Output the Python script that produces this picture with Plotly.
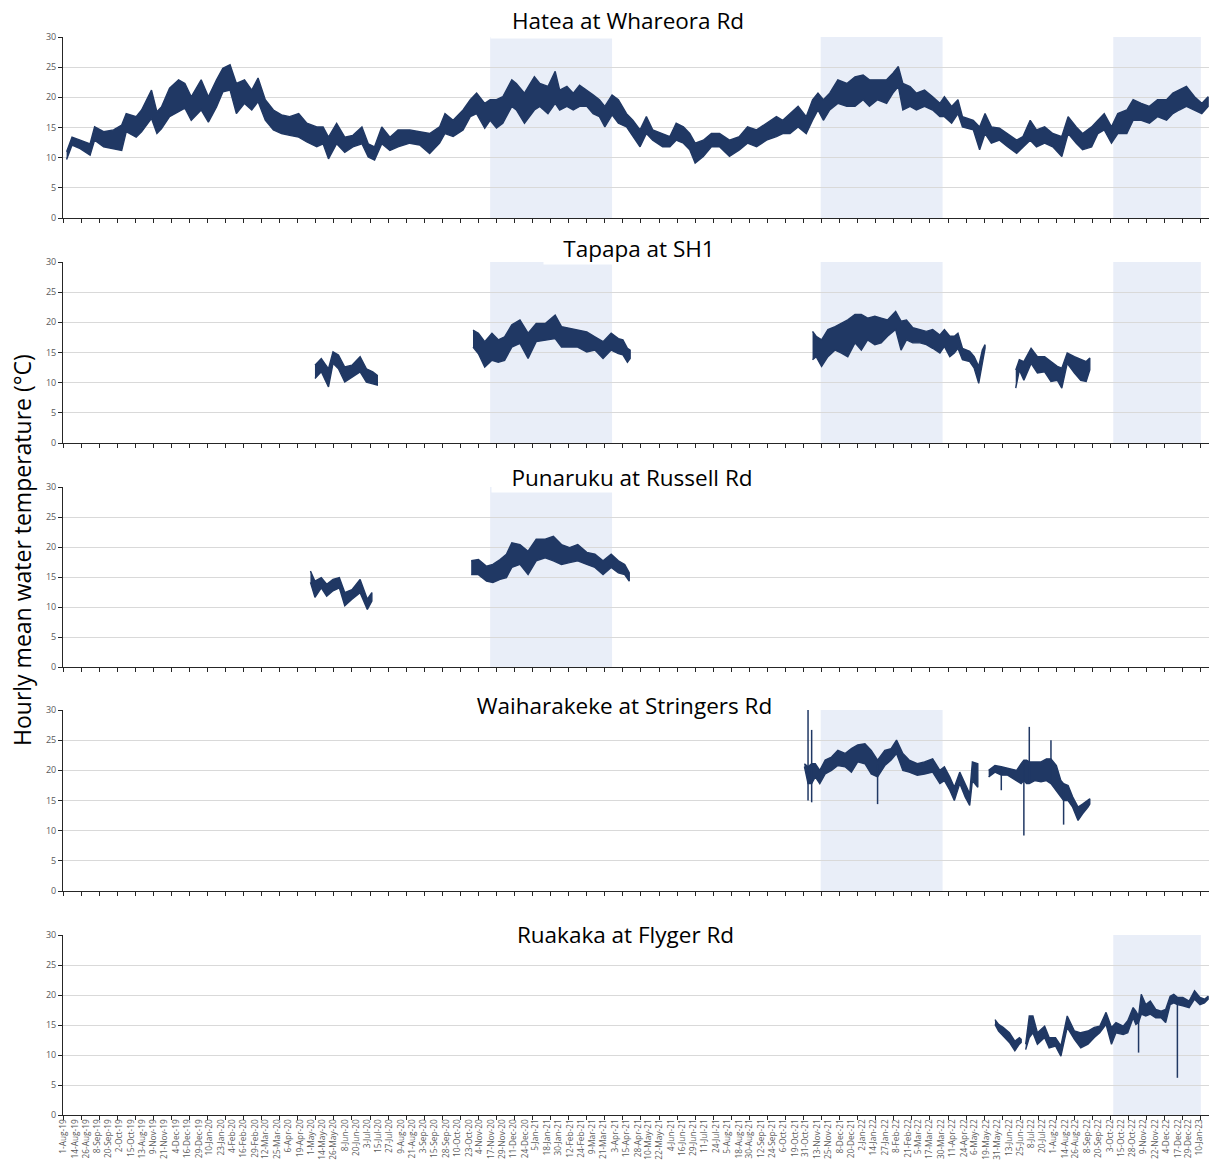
import plotly.graph_objects as go
import pandas as pd

# ---------------- data ----------------
# x values are days since 1 Aug 2019; lo/hi = lower/upper edge of the hourly band (deg C)
# None separates logger records with gaps between them.
ORIGIN = pd.Timestamp("2019-08-01")
X_END = pd.Timestamp("2023-01-21")

site_names = ["Hatea at Whareora Rd", "Tapapa at SH1", "Punaruku at Russell Rd",
              "Waiharakeke at Stringers Rd", "Ruakaka at Flyger Rd"]

hatea_day = [4, 10, 19, 30, 35, 45, 56, 65, 70, 81,
             87, 98, 104, 109, 118, 128, 135, 142, 153, 161,
             170, 177, 185, 192, 201, 209, 216, 224, 233, 242,
             251, 261, 270, 281, 288, 294, 303, 312, 321, 331,
             338, 345, 353, 362, 371, 384, 395, 406, 417, 423,
             432, 443, 451, 458, 467, 473, 480, 487, 497, 502,
             511, 522, 528, 537, 545, 550, 558, 565, 572, 580,
             587, 594, 600, 608, 615, 624, 631, 639, 646, 653,
             664, 672, 679, 687, 694, 700, 709, 718, 727, 738,
             749, 758, 768, 779, 790, 797, 805, 814, 823, 830,
             836, 842, 849, 858, 868, 877, 886, 893, 902, 912,
             919, 925, 930, 938, 945, 954, 963, 971, 976, 984,
             991, 996, 1008, 1015, 1021, 1028, 1037, 1046, 1056, 1063,
             1071, 1078, 1087, 1096, 1106, 1113, 1122, 1129, 1139, 1146,
             1153, 1161, 1168, 1178, 1185, 1194, 1203, 1212, 1222, 1229,
             1236, 1244, 1253, 1261, 1268]
hatea_hi = [11.0, 13.4, 12.9, 12.3, 15.1, 14.3, 14.6, 15.4, 17.3, 16.8,
            17.9, 21.2, 17.6, 18.4, 21.5, 22.9, 22.3, 20.1, 22.9, 20.1,
            22.9, 24.8, 25.4, 22.3, 22.9, 21.2, 23.2, 19.6, 17.9, 17.1,
            16.8, 17.3, 15.7, 15.1, 15.1, 13.4, 15.7, 13.4, 13.7, 15.1,
            12.3, 11.8, 15.1, 13.4, 14.6, 14.6, 14.3, 14.0, 15.1, 17.3,
            16.2, 17.9, 19.6, 20.7, 19.0, 19.6, 19.6, 20.1, 22.9, 22.3,
            20.7, 23.4, 22.3, 21.8, 24.3, 21.2, 21.8, 20.7, 22.0, 21.2,
            20.4, 19.6, 18.5, 20.4, 19.6, 17.3, 16.2, 14.6, 16.8, 14.6,
            14.0, 13.5, 15.7, 15.1, 14.0, 12.4, 12.9, 14.0, 14.0, 12.9,
            13.5, 15.1, 14.6, 15.7, 16.8, 16.2, 17.3, 18.5, 16.8, 19.6,
            20.7, 19.6, 20.7, 22.9, 22.3, 23.4, 23.7, 22.9, 22.9, 22.9,
            24.0, 25.1, 22.3, 21.8, 20.7, 21.2, 20.1, 19.0, 20.1, 18.5,
            19.6, 16.8, 16.2, 15.1, 17.3, 15.1, 14.9, 14.0, 12.9, 13.5,
            16.2, 14.6, 15.1, 14.0, 13.5, 16.8, 15.1, 14.0, 15.1, 16.2,
            17.3, 15.1, 17.3, 17.9, 19.6, 19.0, 18.5, 19.6, 19.6, 20.7,
            21.2, 21.8, 20.1, 19.0, 20.1]
hatea_lo = [9.7, 12.1, 11.5, 10.4, 12.9, 11.8, 11.5, 11.2, 14.3, 13.4,
            14.3, 16.5, 14.0, 14.8, 16.8, 17.6, 18.2, 16.2, 17.9, 15.9,
            18.4, 20.9, 21.2, 17.3, 19.0, 17.9, 19.3, 16.2, 14.6, 14.0,
            13.7, 13.4, 12.6, 11.8, 12.3, 9.8, 12.3, 10.9, 11.8, 12.3,
            10.1, 9.6, 12.3, 11.2, 11.8, 12.4, 12.1, 10.7, 12.4, 14.0,
            13.5, 14.6, 16.8, 17.3, 14.9, 16.2, 14.9, 15.7, 18.5, 17.9,
            15.7, 17.9, 18.5, 17.3, 19.0, 17.9, 18.5, 17.9, 18.5, 18.5,
            17.3, 16.8, 15.1, 17.1, 15.7, 15.1, 13.5, 11.8, 14.0, 12.9,
            11.8, 11.8, 12.9, 12.4, 11.3, 9.1, 10.2, 11.8, 11.8, 10.2,
            11.3, 12.4, 11.8, 12.9, 13.5, 14.0, 14.0, 15.1, 14.0, 16.2,
            17.9, 16.2, 17.9, 19.0, 18.5, 18.5, 19.6, 18.5, 19.6, 19.0,
            20.7, 21.8, 17.9, 18.5, 17.9, 18.5, 17.9, 16.8, 16.8, 15.7,
            17.3, 15.1, 14.6, 11.3, 14.0, 12.4, 12.9, 11.8, 10.7, 11.8,
            12.9, 11.8, 12.4, 11.8, 10.2, 14.0, 12.4, 11.3, 11.8, 14.0,
            14.6, 12.4, 14.0, 14.0, 16.2, 16.2, 15.7, 16.8, 16.2, 17.3,
            17.9, 18.5, 17.9, 17.3, 18.5]

tapapa_day = [279, 286, 294, 299, 305, 312, 320, 329, 336, 343, 348, None,
              454, 460, 467, 475, 482, 489, 497, 506, 515, 524,
              534, 545, 552, 561, 570, 580, 589, 598, 607, 615, 620, 625, 628, None,
              830, 834, 840, 847, 855, 862, 869, 877, 884, 891,
              899, 906, 913, 922, 928, 934, 941, 949, 956, 963,
              971, 976, 982, 987, 991, 996, 1004, 1009, 1014, 1018, 1021, None,
              1055, 1059, 1064, 1072, 1079, 1087, 1094, 1101, 1106, 1112, 1120, 1127, 1133, 1137]
tapapa_hi = [12.9, 14.0, 12.3, 15.1, 14.6, 12.6, 12.9, 14.3, 12.3, 11.8, 11.2, None,
             18.7, 18.2, 16.8, 18.2, 17.1, 17.6, 19.6, 20.4, 18.2, 19.8,
             19.8, 21.2, 19.3, 19.0, 18.7, 18.4, 17.6, 16.8, 18.2, 17.3, 17.1, 15.7, 15.4, None,
             18.5, 17.7, 17.1, 18.8, 19.3, 19.9, 20.4, 21.3, 21.3, 20.7,
             21.0, 20.7, 20.4, 21.8, 20.2, 20.4, 19.1, 18.8, 18.5, 18.8,
             17.9, 18.8, 17.7, 17.7, 18.2, 15.7, 15.2, 14.3, 12.7, 15.4, 16.3, None,
             12.1, 13.8, 13.5, 15.7, 14.3, 14.3, 13.5, 12.7, 12.4, 14.9, 14.3, 13.8, 13.5, 14.1]
tapapa_lo = [10.7, 11.8, 9.3, 13.2, 12.3, 10.1, 10.9, 11.8, 10.1, 9.8, 9.6, None,
             15.9, 14.8, 12.6, 13.7, 13.4, 13.7, 15.9, 16.5, 14.0, 16.8,
             17.1, 17.3, 15.9, 15.9, 15.9, 15.1, 15.4, 14.0, 15.4, 14.8, 14.6, 13.4, 14.0, None,
             13.8, 14.3, 12.7, 14.3, 15.4, 14.9, 14.3, 16.6, 15.4, 17.1,
             16.3, 16.6, 17.7, 18.8, 15.4, 17.1, 16.6, 16.6, 16.3, 15.7,
             14.9, 16.0, 14.3, 14.9, 15.7, 13.8, 13.5, 12.4, 9.9, 13.2, 15.7, None,
             9.1, 12.1, 10.4, 13.2, 11.6, 11.8, 10.2, 10.4, 9.1, 13.2, 11.6, 10.4, 10.2, 12.1]

punaruku_day = [274, 279, 286, 292, 299, 306, 312, 320, 329, 334, 337, 342, None,
                452, 460, 469, 476, 484, 491, 497, 506, 515, 524,
                534, 543, 552, 561, 570, 580, 589, 598, 607, 615, 622, 627]
punaruku_hi = [16.0, 14.3, 14.9, 13.8, 14.6, 14.9, 12.4, 12.9, 14.6, 12.4, 11.3, 12.4, None,
               17.7, 17.9, 16.8, 17.1, 17.9, 18.8, 20.7, 20.4, 19.3, 21.3,
               21.3, 21.8, 20.4, 19.9, 20.4, 19.1, 18.8, 17.7, 18.8, 17.7, 17.1, 15.7]
punaruku_lo = [14.1, 11.6, 13.2, 11.8, 12.7, 13.2, 10.2, 11.3, 12.4, 10.7, 9.6, 11.0, None,
               15.4, 15.4, 14.3, 14.1, 14.6, 14.9, 16.6, 17.1, 15.4, 17.7,
               18.2, 17.7, 17.1, 17.4, 17.7, 17.1, 16.6, 15.4, 16.6, 15.7, 15.4, 14.3]

waiharakeke_day = [821, 825, 829, 833, 838, 844, 851, 858, 866, 873,
                   880, 888, 895, 902, 910, 917, 923, 930, 937, 946,
                   954, 963, 971, 976, 982, 987, 993, 999, 1004, 1007, 1013, None,
                   1025, 1032, 1039, 1046, 1056, 1061, 1064, 1067, 1070, 1076,
                   1083, 1089, 1094, 1100, 1105, 1108, 1113, 1118, 1124, 1129, 1135, 1137]
waiharakeke_hi = [21.1, 20.6, 21.1, 21.1, 20.0, 21.7, 22.2, 23.3, 22.8, 23.6,
                  24.2, 24.4, 23.3, 21.7, 23.3, 23.6, 25.0, 22.8, 21.7, 21.1,
                  21.4, 21.9, 20.0, 20.6, 18.9, 17.2, 19.7, 17.8, 16.1, 21.4, 21.1, None,
                  20.0, 20.8, 20.6, 20.3, 20.0, 21.1, 21.7, 21.7, 21.4, 21.4,
                  21.4, 21.9, 21.9, 20.8, 18.3, 17.8, 17.5, 15.6, 13.9, 14.4, 15.0, 15.3]
waiharakeke_lo = [20.6, 17.8, 17.8, 18.9, 17.8, 19.4, 20.0, 20.8, 20.6, 19.7,
                  21.4, 21.1, 19.4, 18.9, 20.8, 21.7, 22.8, 20.0, 19.7, 19.2,
                  19.4, 19.7, 17.8, 18.3, 16.7, 15.0, 17.8, 15.6, 14.2, 18.3, 17.2, None,
                  18.9, 19.7, 19.2, 19.2, 18.3, 17.8, 18.3, 17.8, 17.8, 18.3,
                  18.1, 18.3, 17.8, 16.7, 15.6, 15.0, 15.0, 13.9, 11.7, 12.8, 13.9, 14.4]
# short-lived spikes (single readings)
waiharakeke_spike_day = [825, 829, 902, 1039, 1064, 1070, 1094, 1108]
waiharakeke_spike_lo = [15.0, 14.7, 14.4, 16.7, 9.2, 17.8, 17.8, 11.0]
waiharakeke_spike_hi = [30.0, 26.7, 21.0, 20.0, 21.7, 27.2, 25.0, 17.8]

ruakaka_day = [1032, 1036, 1041, 1048, 1054, 1059, 1061, None,
               1066, 1070, 1074, 1079, 1087, 1092, 1099, 1105, 1112, 1120,
               1127, 1135, 1142, 1148, 1155, 1161, 1166, 1174, 1179, 1185,
               1188, 1191, 1194, 1199, 1204, 1210, 1216, 1221, 1226, 1230,
               1234, 1240, 1247, 1253, 1259, 1264, 1268]
ruakaka_hi = [15.9, 15.1, 14.6, 13.7, 12.3, 12.9, 12.6, None,
              11.8, 16.5, 16.5, 13.7, 14.8, 12.9, 12.9, 11.5, 16.5, 14.0,
              13.7, 14.0, 14.6, 14.8, 17.1, 14.6, 15.4, 14.8, 15.7, 17.9,
              17.3, 16.5, 20.1, 18.4, 19.0, 17.6, 17.3, 17.6, 19.8, 20.1,
              19.6, 19.6, 19.0, 20.7, 19.6, 19.3, 19.8]
ruakaka_lo = [15.1, 14.0, 13.2, 12.1, 10.7, 11.8, 12.1, None,
              10.9, 12.9, 13.7, 11.8, 12.9, 11.2, 11.5, 9.8, 14.6, 12.6,
              11.2, 11.8, 12.9, 13.7, 15.1, 11.8, 13.7, 13.4, 13.7, 16.2,
              15.1, 15.4, 16.8, 16.5, 16.8, 16.2, 16.2, 15.4, 18.4, 18.7,
              18.4, 18.2, 17.9, 19.3, 18.4, 18.7, 19.3]
ruakaka_spike_day = [1191, 1234]
ruakaka_spike_lo = [10.4, 6.2]
ruakaka_spike_hi = [16.5, 19.6]

# summer shading periods and the panels (0-based) that show them
shade_start = ["2020-11-16", "2021-11-17", "2022-10-07"]
shade_end = ["2021-03-31", "2022-04-01", "2023-01-12"]
shade_panels = [[0, 1, 2], [0, 1, 3], [0, 1, 4]]

tick_labels = ["1-Aug-19", "14-Aug-19", "26-Aug-19", "8-Sep-19", "20-Sep-19", "2-Oct-19", "15-Oct-19",
               "13-Aug-19", "9-Nov-19", "21-Nov-19", "4-Dec-19", "16-Dec-19", "29-Dec-19",
               "10-Jan-20", "23-Jan-20", "4-Feb-20", "16-Feb-20", "29-Feb-20", "12-Mar-20", "25-Mar-20",
               "6-Apr-20", "19-Apr-20", "1-May-20", "14-May-20", "26-May-20", "8-Jun-20", "20-Jun-20",
               "3-Jul-20", "15-Jul-20", "27-Jul-20", "9-Aug-20", "21-Aug-20", "3-Sep-20", "15-Sep-20",
               "28-Sep-20", "10-Oct-20", "23-Oct-20", "4-Nov-20", "17-Nov-20", "29-Nov-20", "11-Dec-20",
               "24-Dec-20", "5-Jan-21", "18-Jan-21", "30-Jan-21", "12-Feb-21", "24-Feb-21", "9-Mar-21",
               "21-Mar-21", "3-Apr-21", "15-Apr-21", "28-Apr-21", "10-May-21", "22-May-21", "4-Jun-21",
               "16-Jun-21", "29-Jun-21", "11-Jul-21", "24-Jul-21", "5-Aug-21", "18-Aug-21", "30-Aug-21",
               "12-Sep-21", "24-Sep-21", "6-Oct-21", "19-Oct-21", "31-Oct-21", "13-Nov-21", "25-Nov-21",
               "8-Dec-21", "20-Dec-21", "2-Jan-22", "14-Jan-22", "27-Jan-22", "8-Feb-22", "21-Feb-22",
               "5-Mar-22", "17-Mar-22", "30-Mar-22", "11-Apr-22", "24-Apr-22", "6-May-22", "19-May-22",
               "31-May-22", "13-Jun-22", "25-Jun-22", "8-Jul-22", "20-Jul-22", "1-Aug-22", "14-Aug-22",
               "26-Aug-22", "8-Sep-22", "20-Sep-22", "3-Oct-22", "15-Oct-22", "28-Oct-22", "9-Nov-22",
               "22-Nov-22", "4-Dec-22", "17-Dec-22", "29-Dec-22", "10-Jan-23"]
y_ticks = [0, 5, 10, 15, 20, 25, 30]

# ---------------- styling ----------------
NAVY = "#203864"
SHADE = "#E9EEF8"
GRID = "#D9D9D9"
TICKC = "#595959"
FONT = "Open Sans"

W, H = 1210, 1160
ML, MR, MT, MB = 63, 1, 37, 45
PH = H - MT - MB
PW = W - ML - MR
panel_px = [(37, 218), (262, 443), (487, 667), (710, 891), (935, 1115)]
title_px = [(628, 20, 274, 36), (639, 248, 190, 32), (632, 477, 280, 30),
            (624, 705, 337, 30), (625, 934, 257, 30)]


def fy(py):
    return (H - MB - py) / PH


def fx(px):
    return (px - ML) / PW


def to_date(d):
    return ORIGIN + pd.Timedelta(days=d)


def segments(day, lo, hi):
    segs, cur = [], ([], [], [])
    for d, l, h in zip(day, lo, hi):
        if d is None:
            if cur[0]:
                segs.append(cur)
            cur = ([], [], [])
        else:
            cur[0].append(d)
            cur[1].append(l)
            cur[2].append(h)
    if cur[0]:
        segs.append(cur)
    return segs


series = [
    (hatea_day, hatea_lo, hatea_hi, [], [], []),
    (tapapa_day, tapapa_lo, tapapa_hi, [], [], []),
    (punaruku_day, punaruku_lo, punaruku_hi, [], [], []),
    (waiharakeke_day, waiharakeke_lo, waiharakeke_hi,
     waiharakeke_spike_day, waiharakeke_spike_lo, waiharakeke_spike_hi),
    (ruakaka_day, ruakaka_lo, ruakaka_hi, ruakaka_spike_day, ruakaka_spike_lo, ruakaka_spike_hi),
]

fig = go.Figure()
for i, (day, lo, hi, sd, sl, sh) in enumerate(series):
    xa = "x" if i == 0 else f"x{i + 1}"
    ya = "y" if i == 0 else f"y{i + 1}"
    for d, l, h in segments(day, lo, hi):
        dates = [to_date(v) for v in d]
        fig.add_trace(go.Scatter(
            x=dates + dates[::-1], y=h + l[::-1], mode="lines", fill="toself",
            fillcolor=NAVY, line=dict(color=NAVY, width=1.4), xaxis=xa, yaxis=ya,
            hoverinfo="skip", showlegend=False))
    if sd:
        xs, ys = [], []
        for d, l, h in zip(sd, sl, sh):
            xs += [to_date(d), to_date(d), None]
            ys += [l, h, None]
        fig.add_trace(go.Scatter(x=xs, y=ys, mode="lines", line=dict(color=NAVY, width=1.5),
                                 xaxis=xa, yaxis=ya, hoverinfo="skip", showlegend=False))

# tick positions
label_pos = []
for t in tick_labels:
    label_pos.append(pd.to_datetime(t, format="%d-%b-%y"))
for k in range(1, len(label_pos) - 1):
    if label_pos[k] < label_pos[k - 1]:
        label_pos[k] = label_pos[k - 1] + (label_pos[k + 1] - label_pos[k - 1]) / 2
label_pos = [p + pd.Timedelta(hours=12) for p in label_pos]
minor_pos = []
t = ORIGIN
while t <= X_END:
    minor_pos.append(t)
    t = t + pd.Timedelta(days=20)

layout = dict(width=W, height=H, margin=dict(l=ML, r=MR, t=MT, b=MB, pad=0),
              paper_bgcolor="white", plot_bgcolor="white", template="none",
              font=dict(family=FONT, color="black"), showlegend=False)
for i in range(5):
    sx = "xaxis" if i == 0 else f"xaxis{i + 1}"
    sy = "yaxis" if i == 0 else f"yaxis{i + 1}"
    top, bot = panel_px[i]
    last = i == 4
    xa = dict(domain=[0, 1], anchor="y" if i == 0 else f"y{i + 1}", type="date",
              range=[ORIGIN, X_END], showgrid=False, zeroline=False,
              showline=True, linecolor="#262626", linewidth=1, automargin=False,
              ticks="", minor=dict(tickmode="array", tickvals=minor_pos, ticks="outside",
                                   ticklen=4, tickwidth=1, tickcolor="#262626", showgrid=False))
    if last:
        xa.update(tickmode="array", tickvals=label_pos, ticktext=tick_labels, tickangle=-90,
                  showticklabels=True, tickfont=dict(size=8.3, color=TICKC, family=FONT))
    else:
        xa.update(tickmode="array", tickvals=[], showticklabels=False)
    if i > 0:
        xa["matches"] = "x"
    layout[sx] = xa
    layout[sy] = dict(domain=[fy(bot), fy(top)], anchor="x" if i == 0 else f"x{i + 1}",
                      range=[0, 30], tickmode="array", tickvals=y_ticks, showgrid=True,
                      gridcolor=GRID, gridwidth=1, zeroline=False, showline=True,
                      linecolor="#262626", linewidth=1, ticks="outside", ticklen=4,
                      tickcolor="#262626", automargin=False,
                      tickfont=dict(size=9, color=TICKC, family=FONT))
fig.update_layout(**layout)

shapes = []
for s, e, panels in zip(shade_start, shade_end, shade_panels):
    for p in panels:
        shapes.append(dict(type="rect", xref="x" if p == 0 else f"x{p + 1}",
                           yref=("y" if p == 0 else f"y{p + 1}") + " domain",
                           x0=s, x1=e, y0=0, y1=1, fillcolor=SHADE, line=dict(width=0),
                           layer="below"))
fig.update_layout(shapes=shapes)

annotations = []
for name, (cx, cy, bw, bh) in zip(site_names, title_px):
    annotations.append(dict(text=name, xref="paper", yref="paper", x=fx(cx), y=fy(cy),
                            xanchor="center", yanchor="middle", showarrow=False,
                            font=dict(size=22.5, family=FONT, color="black"),
                            bgcolor="white", width=bw, height=bh, borderpad=0))
annotations.append(dict(text="Hourly mean water temperature (°C)", xref="paper", yref="paper",
                        x=fx(22), y=fy(550), xanchor="center", yanchor="middle", textangle=-90,
                        showarrow=False, font=dict(size=23, family=FONT, color="black")))
fig.update_layout(annotations=annotations)

fig.write_html("out.html")
